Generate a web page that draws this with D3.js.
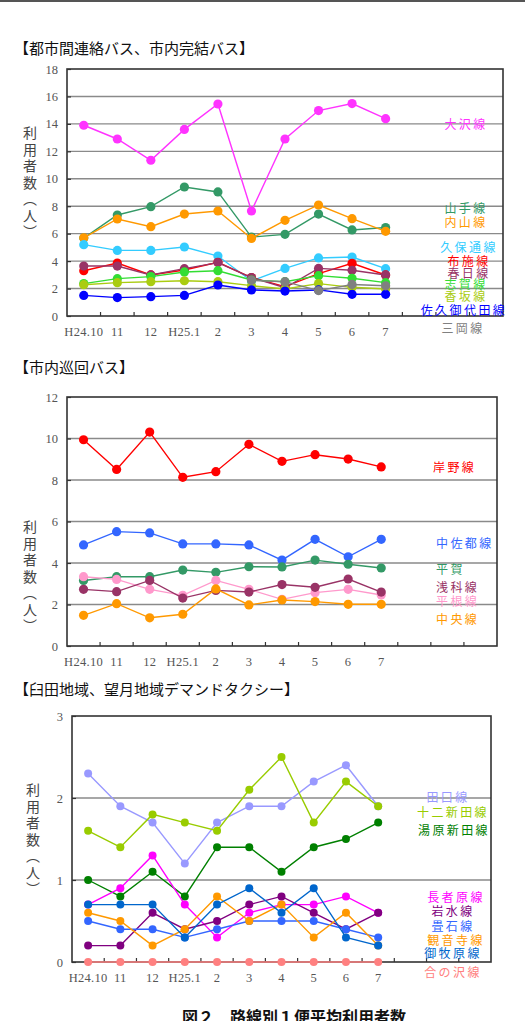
<!DOCTYPE html>
<html><head><meta charset="utf-8">
<script src="https://cdn.jsdelivr.net/npm/d3@7"></script>
<style>
html,body{margin:0;padding:0;background:#fff;}
svg{display:block;}
</style></head>
<body>
<script>
// ---------- data ----------
const months = ["H24.10","11","12","H25.1","2","3","4","5","6","7"];
const bandCount = 13;

// chart 1: 都市間連絡バス、市内完結バス
const c1Ticks = [0,2,4,6,8,10,12,14,16,18];
const oosawa     = [13.9,12.9,11.35,13.6,15.45,7.65,12.9,14.97,15.48,14.38];
const yamate     = [5.68,7.36,7.97,9.4,9.04,5.75,5.95,7.43,6.27,6.45];
const uchiyama   = [5.7,7.07,6.51,7.43,7.65,5.65,6.97,8.09,7.09,6.17];
const kubodori   = [5.2,4.78,4.78,5.03,4.37,2.55,3.47,4.23,4.3,3.45];
const fuse       = [3.3,3.86,2.99,3.35,3.91,2.8,2.14,3.09,3.84,2.99];
const kasuga     = [3.64,3.64,2.99,3.45,3.89,2.8,2.06,3.47,3.33,2.99];
const shiga      = [2.36,2.72,2.87,3.21,3.3,2.62,2.5,2.94,2.75,2.43];
const kousaka    = [2.28,2.43,2.5,2.57,2.5,2.21,1.97,2.36,2.09,1.97];
const sakuMiyota = [1.5,1.34,1.41,1.5,2.26,1.9,1.82,1.9,1.58,1.58];
const mioka      = [null,null,null,null,null,2.6,2.5,1.85,2.3,2.2];

// chart 2: 市内巡回バス
const c2Ticks = [0,2,4,6,8,10,12];
const kishino  = [9.94,8.51,10.31,8.13,8.4,9.72,8.9,9.22,9.01,8.63];
const nakasato = [4.87,5.51,5.45,4.92,4.92,4.87,4.14,5.14,4.3,5.14];
const hiraga   = [3.16,3.34,3.34,3.66,3.55,3.82,3.81,4.14,3.94,3.76];
const asashina = [2.73,2.62,3.16,2.31,2.68,2.6,2.96,2.83,3.23,2.6];
const hirane   = [3.34,3.21,2.73,2.44,3.16,2.73,2.25,2.57,2.73,2.46];
const chuo     = [1.48,2.04,1.36,1.53,2.75,1.98,2.22,2.14,2.01,2.01];

// chart 3: 臼田地域、望月地域デマンドタクシー
const c3Ticks = [0,1,2,3];
const taguchi       = [2.3,1.9,1.7,1.2,1.7,1.9,1.9,2.2,2.4,1.9];
const juniShinden   = [1.6,1.4,1.8,1.7,1.6,2.1,2.5,1.7,2.2,1.9];
const yuharaShinden = [1.0,0.8,1.1,0.8,1.4,1.4,1.1,1.4,1.5,1.7];
const chojabara     = [0.7,0.9,1.3,0.7,0.3,0.6,0.7,0.7,0.8,0.6];
const iwamizu       = [0.2,0.2,0.6,0.4,0.5,0.7,0.8,0.6,0.4,0.6];
const tatamiishi    = [0.5,0.4,0.4,0.3,0.4,0.5,0.5,0.5,0.4,0.3];
const kannonji      = [0.6,0.5,0.2,0.4,0.8,0.5,0.7,0.3,0.6,0.2];
const mimakihara    = [0.7,0.7,0.7,0.3,0.7,0.9,0.6,0.9,0.3,0.2];
const ainosawa      = [0,0,0,0,0,0,0,0,0,0];

const titles = ["【都市間連絡バス、市内完結バス】","【市内巡回バス】","【臼田地域、望月地域デマンドタクシー】"];
const yTitleText = "利用者数（人）";
const caption = "図２　路線別１便平均利用者数";

// ---------- drawing ----------
const W = 525, H = 1021;
const svg = d3.select("body").append("svg").attr("width", W).attr("height", H);
const JP = "'Noto Sans CJK JP','Noto Sans',sans-serif";
const SERIF = "'Liberation Serif','DejaVu Serif',serif";

svg.append("rect").attr("x",0).attr("y",0).attr("width",W).attr("height",2).attr("fill","#555");

function yTitle(x, y0){
  svg.append("text").text(yTitleText)
    .attr("x",x).attr("y",y0)
    .style("writing-mode","vertical-rl")
    .attr("font-family",JP).attr("font-size",14).attr("letter-spacing",2.5).attr("fill","#444");
}

function drawChart(o){
  const x = d3.scaleBand().domain(d3.range(bandCount)).range([o.left,o.right]).padding(0);
  const bw = x.bandwidth();
  const y = d3.scaleLinear().domain([0,d3.max(o.ticks)]).range([o.bottom,o.top]);
  const g = svg.append("g");
  // gridlines
  g.selectAll("line.grid").data(o.ticks.slice(1,-1)).join("line")
    .attr("x1",o.left).attr("x2",o.right).attr("y1",d=>y(d)).attr("y2",d=>y(d))
    .attr("stroke","#8a8a8a").attr("stroke-width",1.4);
  // frame
  g.append("rect").attr("x",o.left).attr("y",o.top).attr("width",o.right-o.left).attr("height",o.bottom-o.top)
    .attr("fill","none").attr("stroke","#333").attr("stroke-width",1.6);
  // y axis
  const ya = g.append("g").attr("transform",`translate(${o.left},0)`)
    .call(d3.axisLeft(y).tickValues(o.ticks).tickSize(-4).tickPadding(9).tickFormat(d3.format("d")));
  ya.select(".domain").remove();
  ya.selectAll("line").attr("stroke","#333").attr("stroke-width",1.2);
  ya.selectAll("text").attr("font-family",SERIF).attr("font-size",12.5).attr("fill","#555");
  // x axis labels
  const xa = g.append("g").attr("transform",`translate(0,${o.bottom})`)
    .call(d3.axisBottom(x).tickSize(0).tickPadding(11).tickFormat(i=> i<months.length? months[i] : ""));
  xa.select(".domain").remove();
  xa.selectAll("text").attr("font-family",SERIF).attr("font-size",12.5).attr("fill","#555").attr("letter-spacing",0.3);
  // x boundary ticks (inside)
  g.selectAll("line.xt").data(d3.range(1,bandCount)).join("line")
    .attr("x1",i=>x(i)).attr("x2",i=>x(i)).attr("y1",o.bottom).attr("y2",o.bottom-4)
    .attr("stroke","#333").attr("stroke-width",1.2);
  // series
  const line = d3.line().defined(d=>d!=null).x((d,i)=>x(i)+bw/2).y(d=>y(d));
  o.series.forEach(s=>{
    g.append("path").datum(s.values).attr("d",line).attr("fill","none")
      .attr("stroke",s.color).attr("stroke-width",1.4);
    g.selectAll(null).data(s.values.map((v,i)=>({v,i})).filter(d=>d.v!=null)).join("circle")
      .attr("cx",d=>x(d.i)+bw/2).attr("cy",d=>y(d.v)).attr("r",o.r).attr("fill",s.color);
  });
  // legend labels
  o.series.forEach(s=>{
    svg.append("text").text(s.name).attr("x",s.lx).attr("y",s.ly)
      .attr("text-anchor",s.anchor||"middle").attr("dominant-baseline","central")
      .attr("font-family",JP).attr("font-size",12).attr("letter-spacing",2.4).attr("fill",s.color);
  });
}

// titles
[54,373,695].forEach((yy,i)=>{
  svg.append("text").text(titles[i]).attr("x",14).attr("y",yy)
    .attr("font-family",JP).attr("font-size",15).attr("fill","#111");
});

drawChart({left:67,right:503,top:69,bottom:316,ticks:c1Ticks,r:4.6,series:[
  {name:"大沢線",values:oosawa,color:"#FF33FF",lx:466,ly:123},
  {name:"山手線",values:yamate,color:"#339966",lx:466,ly:207},
  {name:"内山線",values:uchiyama,color:"#FF9900",lx:466,ly:221},
  {name:"久保通線",values:kubodori,color:"#33CCFF",lx:469,ly:246},
  {name:"布施線",values:fuse,color:"#FF0000",lx:469,ly:260},
  {name:"春日線",values:kasuga,color:"#993366",lx:469,ly:272},
  {name:"志賀線",values:shiga,color:"#33DD33",lx:466,ly:283},
  {name:"香坂線",values:kousaka,color:"#AACC11",lx:466,ly:295},
  {name:"佐久御代田線",values:sakuMiyota,color:"#0000FF",lx:464,ly:309},
  {name:"三岡線",values:mioka,color:"#808080",lx:463,ly:327}
]});
yTitle(30,126);

drawChart({left:67,right:497,top:397,bottom:646,ticks:c2Ticks,r:4.6,series:[
  {name:"岸野線",values:kishino,color:"#FF0000",lx:433,ly:466,anchor:"start"},
  {name:"中佐都線",values:nakasato,color:"#3366FF",lx:436,ly:542,anchor:"start"},
  {name:"平賀",values:hiraga,color:"#339966",lx:436,ly:568,anchor:"start"},
  {name:"平根線",values:hirane,color:"#FF99CC",lx:436,ly:600,anchor:"start"},
  {name:"浅科線",values:asashina,color:"#993366",lx:436,ly:586,anchor:"start"},
  {name:"中央線",values:chuo,color:"#FF9900",lx:436,ly:618,anchor:"start"}
]});
yTitle(30,520);

drawChart({left:72,right:491,top:716,bottom:962,ticks:c3Ticks,r:4,series:[
  {name:"田口線",values:taguchi,color:"#9999FF",lx:448,ly:796},
  {name:"十二新田線",values:juniShinden,color:"#99CC00",lx:453,ly:811},
  {name:"湯原新田線",values:yuharaShinden,color:"#008000",lx:454,ly:829},
  {name:"長者原線",values:chojabara,color:"#FF00FF",lx:456,ly:896},
  {name:"岩水線",values:iwamizu,color:"#800080",lx:453,ly:910},
  {name:"畳石線",values:tatamiishi,color:"#3366FF",lx:453,ly:925},
  {name:"観音寺線",values:kannonji,color:"#FF9900",lx:456,ly:939},
  {name:"御牧原線",values:mimakihara,color:"#0066CC",lx:453,ly:952},
  {name:"合の沢線",values:ainosawa,color:"#FF8080",lx:453,ly:971}
]});
yTitle(33,783);

svg.append("text").text(caption).attr("x",294).attr("y",1023).attr("text-anchor","middle")
  .attr("font-family",JP).attr("font-size",16).attr("font-weight","bold").attr("fill","#111");
</script>
</body></html>
